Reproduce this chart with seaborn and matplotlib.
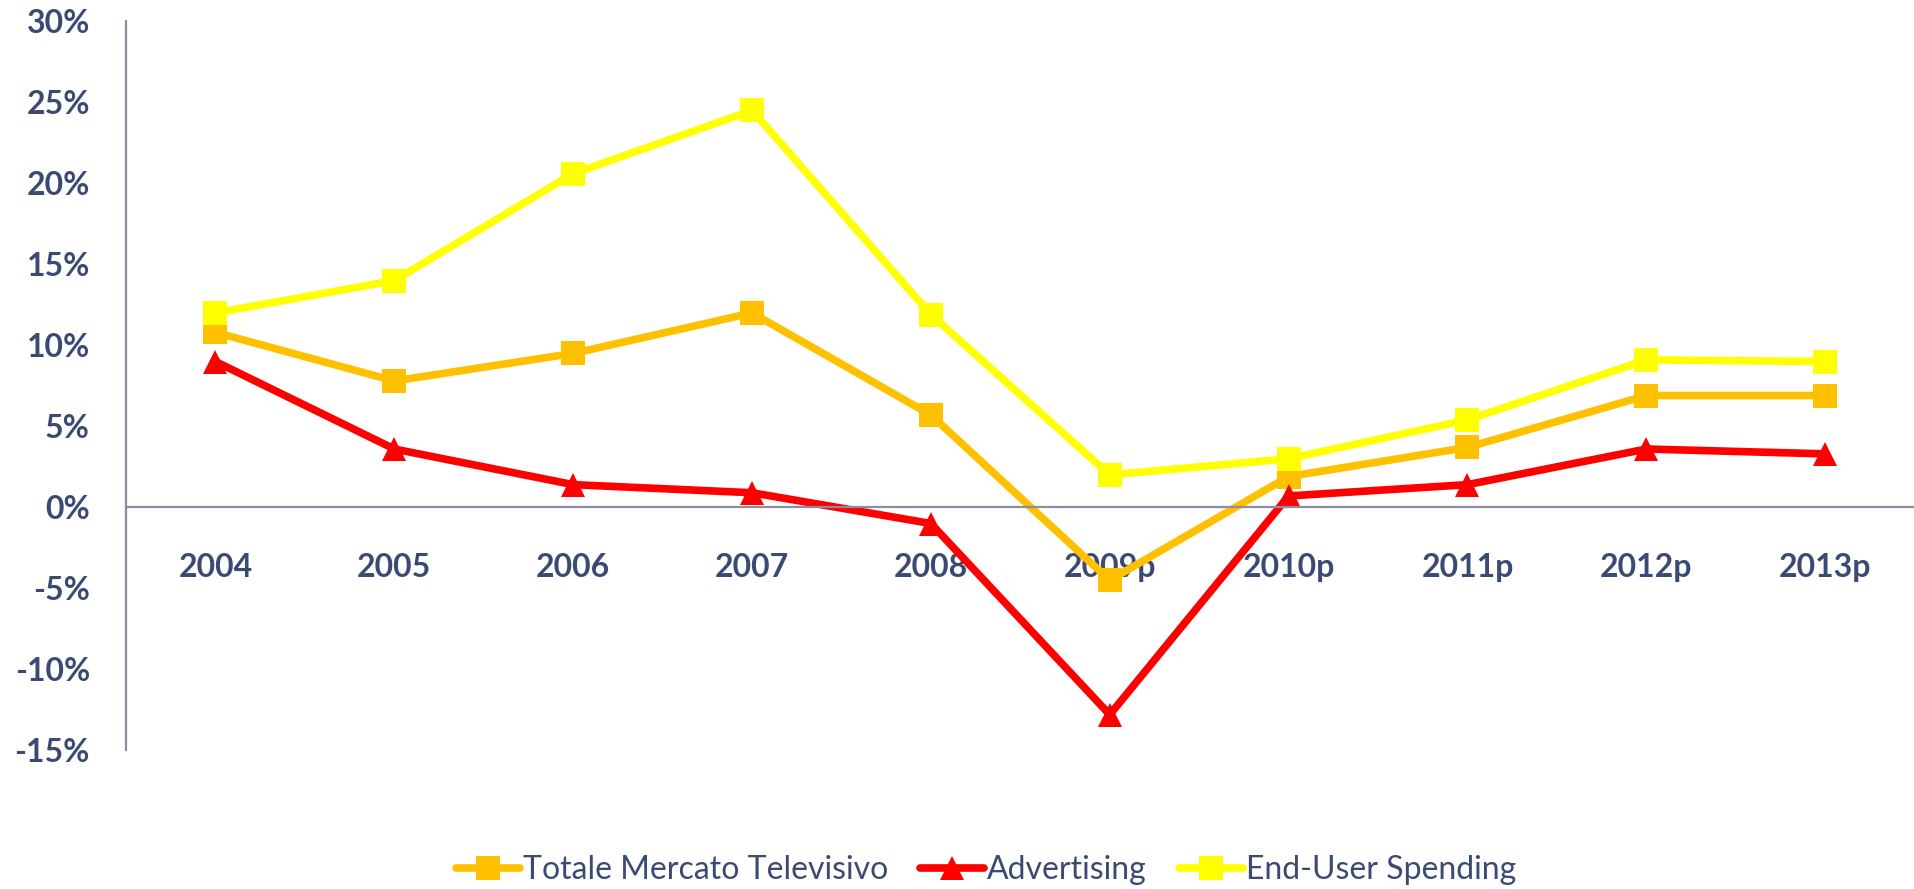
import pandas as pd
import matplotlib
matplotlib.use('Agg')
import matplotlib.pyplot as plt
import seaborn as sns

# Dati: crescita annua (%) del mercato televisivo
anni = ['2004', '2005', '2006', '2007', '2008', '2009p', '2010p', '2011p', '2012p', '2013p']
totale = [10.8, 7.8, 9.5, 12.0, 5.7, -4.5, 1.9, 3.7, 6.9, 6.9]
advertising = [9.0, 3.6, 1.4, 0.9, -1.0, -12.8, 0.7, 1.4, 3.6, 3.3]
end_user = [12.0, 14.0, 20.6, 24.5, 11.9, 2.0, 3.0, 5.4, 9.1, 9.0]

serie = ['Totale Mercato Televisivo', 'Advertising', 'End-User Spending']
colori = ['#FFC000', '#FF0000', '#FFFF00']
marcatori = ['s', '^', 's']

dati = pd.DataFrame({
    'anno': anni * 3,
    'valore': totale + advertising + end_user,
    'serie': [s for s in serie for _ in anni],
})

sns.set_style('white')
plt.rcParams['font.family'] = ['Lato', 'DejaVu Sans']
plt.rcParams['axes.unicode_minus'] = False

testo = '#3B4A72'
asse = '#8A8FA0'

fig = plt.figure(figsize=(19.15, 8.89), dpi=100)
ax = fig.add_axes([0.0658, 0.156, 0.934, 0.82])

sns.lineplot(data=dati, x='anno', y='valore', hue='serie', style='serie',
             palette=dict(zip(serie, colori)), markers=dict(zip(serie, marcatori)),
             dashes=False, linewidth=5.5, markersize=17, markeredgewidth=0,
             sort=False, legend=False, ax=ax)

ax.set_xlim(-0.5, 9.5)
ax.set_ylim(-15, 30)
ax.set_yticks(range(-15, 31, 5))
ax.set_yticklabels([f'{v}%' for v in range(-15, 31, 5)])
ax.set_xlabel('')
ax.set_ylabel('')

for s in ['top', 'right']:
    ax.spines[s].set_visible(False)
ax.spines['bottom'].set_position(('data', 0))
for s in ['left', 'bottom']:
    ax.spines[s].set_color(asse)
    ax.spines[s].set_linewidth(1.6)

ax.tick_params(axis='y', length=0, pad=26, labelsize=23, labelcolor=testo)
ax.tick_params(axis='x', length=0, pad=33, labelsize=23, labelcolor=testo)
for lab in ax.get_xticklabels() + ax.get_yticklabels():
    lab.set_fontweight('bold')

# Legenda in basso
maniglie = [plt.Line2D([], [], color=c, marker=m, linewidth=5.5, markersize=17,
                       markeredgewidth=0) for c, m in zip(colori, marcatori)]
fig.legend(maniglie, serie, loc='center', bbox_to_anchor=(0.515, 0.021), ncol=3,
           frameon=False, handlelength=2.0, handletextpad=0.1, columnspacing=1.0,
           prop={'size': 23}, labelcolor=testo)

fig.savefig('out.png', dpi=100)
plt.close()
